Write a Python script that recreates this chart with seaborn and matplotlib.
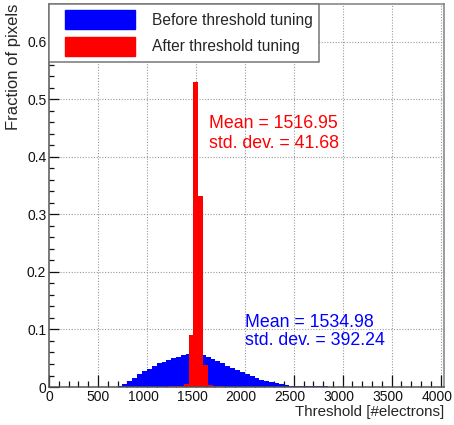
import numpy as np
import pandas as pd
import seaborn as sns
import matplotlib
matplotlib.use("Agg")
import matplotlib.pyplot as plt
import matplotlib.transforms as mtransforms
from matplotlib.patches import Patch, Rectangle
from matplotlib.legend_handler import HandlerPatch
from matplotlib.ticker import MultipleLocator

# threshold distributions, fraction of pixels per 50 e- bin
bin_width = 50
before_bin_low = np.arange(700, 3550, bin_width)
before_frac = [0.002, 0.005, 0.010, 0.016, 0.022, 0.028, 0.032, 0.036, 0.041, 0.044,
               0.047, 0.050, 0.053, 0.055, 0.057, 0.058, 0.057, 0.055, 0.052, 0.048,
               0.045, 0.041, 0.037, 0.033, 0.029, 0.026, 0.023, 0.020, 0.016, 0.013,
               0.0105, 0.008, 0.0064, 0.0048, 0.0036, 0.0026, 0.0022, 0.0019, 0.0016, 0.0014,
               0.0012, 0.0010, 0.0009, 0.0008, 0.0008, 0.0007, 0.0007, 0.0006, 0.0006, 0.0005,
               0.0005, 0.0005, 0.0004, 0.0004, 0.0004, 0.0004, 0.0003]

after_bin_low = np.arange(1225, 1775, bin_width)
after_frac = [0.001, 0.001, 0.002, 0.006, 0.090, 0.530, 0.332, 0.038, 0.003, 0.002, 0.001]

labels = ["Before threshold tuning", "After threshold tuning"]
stats_before = "Mean = 1534.98\nstd. dev. = 392.24"
stats_after = "Mean = 1516.95\nstd. dev. = 41.68"

df_before = pd.DataFrame({"thr": before_bin_low + bin_width / 2, "frac": before_frac})
df_after = pd.DataFrame({"thr": after_bin_low + bin_width / 2, "frac": after_frac})

sns.set_style("white")
plt.rcParams["font.family"] = ["Liberation Sans", "DejaVu Sans"]

fig = plt.figure(figsize=(4.54, 4.25), dpi=100)
ax = fig.add_axes([0.108, 0.0894, 0.870, 0.9012])

sns.histplot(data=df_before, x="thr", weights="frac", binwidth=bin_width,
             binrange=(before_bin_low[0], before_bin_low[-1] + bin_width),
             element="step", fill=True, color="#0000ff", alpha=1, linewidth=0, ax=ax)
sns.histplot(data=df_after, x="thr", weights="frac", binwidth=bin_width,
             binrange=(after_bin_low[0], after_bin_low[-1] + bin_width),
             element="step", fill=True, color="#ff0000", alpha=1, linewidth=0, ax=ax)

ax.set_xlim(0, 4035)
ax.set_ylim(0, 0.666)
ax.xaxis.set_major_locator(MultipleLocator(500))
ax.xaxis.set_minor_locator(MultipleLocator(100))
ax.yaxis.set_major_locator(MultipleLocator(0.1))
ax.yaxis.set_minor_locator(MultipleLocator(0.02))

# dotted grid behind the histograms, ticks stay on top
grid_kw = dict(color="#9a9a9a", linewidth=0.8, linestyle=(0, (1, 1.5)), zorder=0)
xt = [t for t in ax.get_xticks() if 0 < t < 4035]
yt = [t for t in ax.get_yticks() if 0 < t < 0.666]
ax.vlines(xt, 0, 0.666, **grid_kw)
ax.hlines(yt, 0, 4035, **grid_kw)

ax.tick_params(which="both", direction="in", bottom=True, left=True,
               top=False, right=False, labelsize=10, colors="#111111")
ax.tick_params(axis="x", which="major", length=8.5, width=0.9)
ax.tick_params(axis="x", which="minor", length=4.3, width=0.9)
ax.tick_params(axis="y", which="major", length=7.2, width=0.9)
ax.tick_params(axis="y", which="minor", length=3.6, width=0.9)
ax.set_xticks([0, 500, 1000, 1500, 2000, 2500, 3000, 3500, 4000])
ax.set_xticklabels(["0", "500", "1000", "1500", "2000", "2500", "3000", "3500", "4000"])
ax.set_yticks([0, 0.1, 0.2, 0.3, 0.4, 0.5, 0.6])
ax.set_yticklabels(["0", "0.1", "0.2", "0.3", "0.4", "0.5", "0.6"])
ax.tick_params(axis="x", pad=2)
ax.tick_params(axis="y", pad=2)

# four-digit x labels sit a few pixels left of their ticks, as in the original
shift = mtransforms.ScaledTranslation(-0.035, 0, fig.dpi_scale_trans)
for lab in ax.get_xticklabels():
    if len(lab.get_text()) == 4:
        lab.set_transform(lab.get_transform() + shift)

for s in ax.spines.values():
    s.set_color("#808080")
    s.set_linewidth(1.1)
ax.spines["left"].set_color("#555555")
ax.spines["bottom"].set_color("#555555")

ax.set_xlabel("Threshold [#electrons]", loc="right", fontsize=10.9, labelpad=1)
ax.set_ylabel("Fraction of pixels", loc="top", fontsize=12, labelpad=4)

ax.text(1634, 0.441, stats_after, color="#ff0000", fontsize=12.8,
        va="center", ha="left", linespacing=1.25)
ax.text(2002, 0.096, stats_before, color="#0000ff", fontsize=12.8,
        va="center", ha="left", linespacing=1.05)


def shifted_patch(legend, orig_handle, xdescent, ydescent, width, height, fontsize):
    off = 7.2
    return Rectangle((-xdescent + off, -ydescent), width - off, height)


handles = [Patch(facecolor="#0000ff", edgecolor="#0000ff"),
           Patch(facecolor="#ff0000", edgecolor="#ff0000")]
leg = ax.legend(handles, labels, loc="upper left", bbox_to_anchor=(0, 1),
                borderaxespad=0, fontsize=11.2, frameon=True, fancybox=False,
                handlelength=5.15, handleheight=1.48, handletextpad=1.05,
                labelspacing=0.5, borderpad=0.4,
                handler_map={Patch: HandlerPatch(patch_func=shifted_patch)})
leg.get_frame().set_edgecolor("#777777")
leg.get_frame().set_linewidth(1.1)
leg.get_frame().set_alpha(1)

fig.savefig("out.png", dpi=100)
